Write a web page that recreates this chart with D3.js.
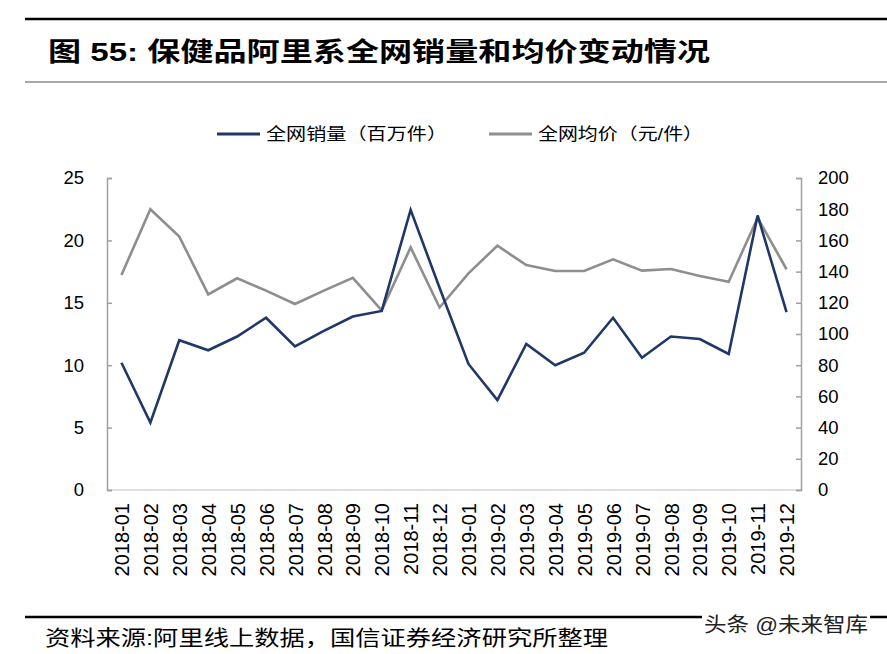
<!DOCTYPE html>
<html>
<head>
<meta charset="utf-8">
<script src="https://cdn.jsdelivr.net/npm/d3@7"></script>
<style>
	body { margin: 0; background: #fff; }
	text { font-family: 'Liberation Sans', 'Noto Sans CJK SC', sans-serif; }
</style>
</head>
<body>
<script>
const width = 887
const height = 654
const plot = { left: 107, right: 801, top: 178, bottom: 490 }

const months = ['2018-01', '2018-02', '2018-03', '2018-04', '2018-05', '2018-06',
	'2018-07', '2018-08', '2018-09', '2018-10', '2018-11', '2018-12',
	'2019-01', '2019-02', '2019-03', '2019-04', '2019-05', '2019-06',
	'2019-07', '2019-08', '2019-09', '2019-10', '2019-11', '2019-12']

// 全网销量（百万件）
const volume = [10.2, 5.4, 12.0, 11.2, 12.3, 13.8, 11.5, 12.75, 13.9, 14.35, 22.45, 16.2,
	10.1, 7.2, 11.7, 10.0, 11.0, 13.8, 10.6, 12.3, 12.1, 10.9, 22.0, 14.25]

// 全网均价（元/件）
const price = [137.8, 180, 162.4, 125.4, 135.7, 127.8, 119.2, 127.8, 136, 115.2, 155.5, 117,
	138.9, 156.6, 144.2, 140.4, 140.4, 147.9, 140.6, 141.7, 137.2, 133.5, 174.5, 141.5]

const leftTicks = [0, 5, 10, 15, 20, 25]
const rightTicks = [0, 20, 40, 60, 80, 100, 120, 140, 160, 180, 200]

const blue = '#1f3868'
const grey = '#8e8e8e'

const svg = d3.select('body')
	.append('svg')
	.attr('width', width)
	.attr('height', height)

// header rules and title
svg.append('line')
	.attr('x1', 25).attr('x2', width)
	.attr('y1', 19).attr('y2', 19)
	.attr('stroke', '#000').attr('stroke-width', 2.5)

svg.append('line')
	.attr('x1', 25).attr('x2', width)
	.attr('y1', 82).attr('y2', 82)
	.attr('stroke', '#555').attr('stroke-width', 1.2)

svg.append('text')
	.attr('x', 48)
	.attr('y', 61)
	.attr('font-size', 26)
	.attr('font-weight', 'bold')
	.attr('textLength', 662)
	.attr('lengthAdjust', 'spacingAndGlyphs')
	.text('图 55:  保健品阿里系全网销量和均价变动情况')

const xScale = d3.scalePoint()
	.domain(months)
	.range([plot.left, plot.right])
	.padding(0.5)

const yLeft = d3.scaleLinear()
	.domain([0, 25])
	.range([plot.bottom, plot.top])

const yRight = d3.scaleLinear()
	.domain([0, 200])
	.range([plot.bottom, plot.top])

// axes
const gx = svg.append('g')
	.attr('transform', `translate(0,${plot.bottom})`)
	.call(d3.axisBottom(xScale).tickSize(0).tickPadding(0))

gx.select('.domain')
	.attr('stroke', '#d6d6d6')
	.attr('stroke-width', 1.5)
	.attr('d', `M${plot.left},0H${plot.right}`)

gx.selectAll('.tick text')
	.attr('font-size', 20)
	.attr('fill', '#000')
	.attr('text-anchor', 'end')
	.attr('transform', 'rotate(-90)')
	.attr('x', -13)
	.attr('y', 0)
	.attr('dy', '0.36em')

const gl = svg.append('g')
	.attr('transform', `translate(${plot.left},0)`)
	.call(d3.axisRight(yLeft).tickValues(leftTicks).tickSize(5).tickPadding(-28).tickSizeOuter(5))

gl.select('.domain').attr('stroke', '#a0a0a0').attr('stroke-width', 1.5)
gl.selectAll('.tick line').attr('stroke', '#a0a0a0').attr('stroke-width', 1.5)
gl.selectAll('.tick text')
	.attr('font-size', 18.5)
	.attr('fill', '#000')
	.attr('text-anchor', 'end')
	.attr('x', -23)

const gr = svg.append('g')
	.attr('transform', `translate(${plot.right},0)`)
	.call(d3.axisLeft(yRight).tickValues(rightTicks).tickSize(5).tickSizeOuter(5))

gr.select('.domain').attr('stroke', '#a0a0a0').attr('stroke-width', 1.5)
gr.selectAll('.tick line').attr('stroke', '#a0a0a0').attr('stroke-width', 1.5)
gr.selectAll('.tick text')
	.attr('font-size', 18.5)
	.attr('fill', '#000')
	.attr('text-anchor', 'start')
	.attr('x', 17)

// series
const lineLeft = d3.line()
	.x((d, i) => xScale(months[i]))
	.y(d => yLeft(d))

const lineRight = d3.line()
	.x((d, i) => xScale(months[i]))
	.y(d => yRight(d))

svg.append('path')
	.attr('d', lineRight(price))
	.attr('fill', 'none')
	.attr('stroke', grey)
	.attr('stroke-width', 2.6)

svg.append('path')
	.attr('d', lineLeft(volume))
	.attr('fill', 'none')
	.attr('stroke', blue)
	.attr('stroke-width', 2.6)

// legend
const legendItems = [
	{ label: '全网销量（百万件）', color: blue, x: 217, len: 181 },
	{ label: '全网均价（元/件）', color: grey, x: 489, len: 165 }
]

const legend = svg.selectAll('.legend')
	.data(legendItems)
	.enter()
	.append('g')
	.attr('class', 'legend')
	.attr('transform', d => `translate(${d.x},134)`)

legend.append('line')
	.attr('x1', 0).attr('x2', 43)
	.attr('stroke', d => d.color)
	.attr('stroke-width', 3)

legend.append('text')
	.attr('x', 49)
	.attr('dy', '0.36em')
	.attr('font-size', 16.5)
	.attr('textLength', d => d.len)
	.attr('lengthAdjust', 'spacingAndGlyphs')
	.text(d => d.label)

// footer
svg.append('line')
	.attr('x1', 25).attr('x2', width)
	.attr('y1', 617).attr('y2', 617)
	.attr('stroke', '#000').attr('stroke-width', 2.5)

svg.append('text')
	.attr('x', 45)
	.attr('y', 645)
	.attr('font-size', 21)
	.attr('textLength', 563)
	.attr('lengthAdjust', 'spacingAndGlyphs')
	.text('资料来源:阿里线上数据，国信证券经济研究所整理')

svg.append('rect')
	.attr('x', 702).attr('y', 610)
	.attr('width', 168).attr('height', 26)
	.attr('fill', '#fff')

svg.append('text')
	.attr('x', 704)
	.attr('y', 632)
	.attr('font-size', 20)
	.attr('fill', '#222')
	.attr('textLength', 164)
	.attr('lengthAdjust', 'spacingAndGlyphs')
	.text('头条 @未来智库')
</script>
</body>
</html>
